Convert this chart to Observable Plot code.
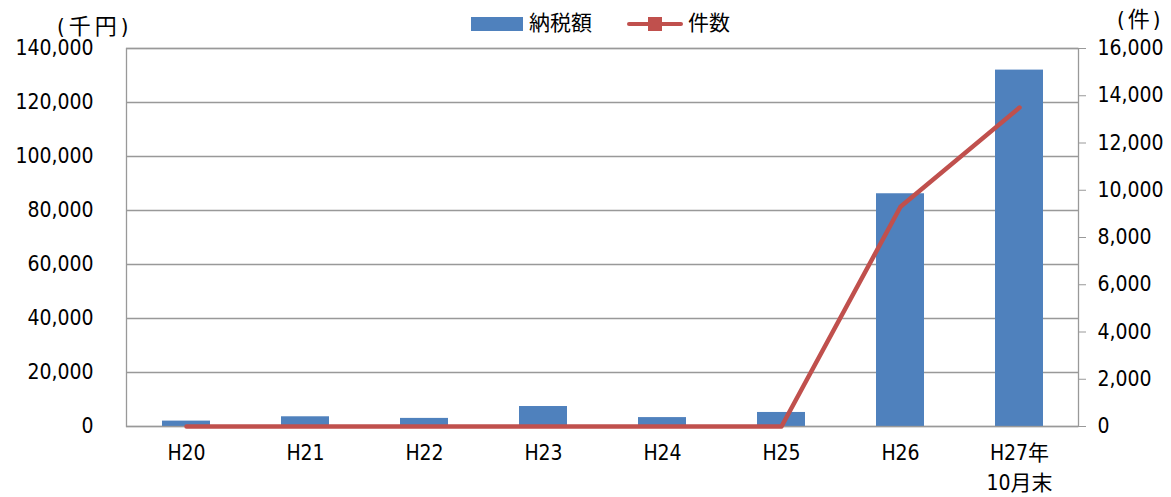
<!DOCTYPE html>
<html>
<head>
<meta charset="utf-8">
<script src="https://cdn.jsdelivr.net/npm/d3@7"></script>
<script src="https://cdn.jsdelivr.net/npm/@observablehq/plot@0.6"></script>
<style>
  html, body { margin: 0; padding: 0; background: #fff; }
  #wrap { position: relative; width: 1171px; height: 497px; font-family: "DejaVu Sans Condensed", "Noto Sans CJK JP", sans-serif; color: #000; }
  .abs { position: absolute; white-space: nowrap; line-height: 1; z-index: 2; }
</style>
</head>
<body>
<div id="wrap">
  <div id="chart" style="position:absolute; left:0; top:0; z-index:1;"></div>
  <div class="abs" style="left:57px; top:16px; font-size:22px; letter-spacing:4px;">(千円)</div>
  <div class="abs" style="left:1117px; top:9px; font-size:22px; letter-spacing:3px;">(件)</div>
  <div class="abs" style="left:471px; top:17px; width:52px; height:14px; background:#4F81BD;"></div>
  <div class="abs" style="left:529px; top:13px; font-size:21px;">納税額</div>
  <div class="abs" style="left:627px; top:22px; width:56px; height:4px; background:#C0504D; border-radius:2px;"></div>
  <div class="abs" style="left:648px; top:17px; width:14px; height:14px; background:#C0504D;"></div>
  <div class="abs" style="left:688px; top:13px; font-size:21px;">件数</div>
</div>
<script>
const categories = ["H20", "H21", "H22", "H23", "H24", "H25", "H26", "H27年\n10月末"];
const taxAmount = [2000, 3600, 3000, 7400, 3300, 5200, 86200, 132000]; // 納税額 (千円)
const counts = [0, 0, 0, 0, 0, 0, 9300, 13500]; // 件数
const leftTicks = [0, 20000, 40000, 60000, 80000, 100000, 120000, 140000];
const rightTicks = [0, 2000, 4000, 6000, 8000, 10000, 12000, 14000, 16000];

const leftMax = 140000, rightMax = 16000;
const ratio = leftMax / rightMax;
const table = categories.map((c, i) => ({cat: c, tax: taxAmount[i], count: counts[i]}));
const fmt = d3.format(",");

const chart = Plot.plot({
  width: 1171,
  height: 497,
  marginTop: 48,
  marginBottom: 71,
  marginLeft: 126,
  marginRight: 93,
  style: {fontFamily: '"DejaVu Sans Condensed", "Noto Sans CJK JP", sans-serif', fontSize: "21px", color: "#000", background: "transparent"},
  x: {domain: categories, paddingInner: 0.6, paddingOuter: 0.3, label: null},
  y: {domain: [0, leftMax], label: null},
  marks: [
    Plot.gridY(leftTicks, {stroke: "#999", strokeOpacity: 1, strokeWidth: 1.3}),
    Plot.barY(table, {x: "cat", y: "tax", fill: "#4F81BD"}),
    Plot.frame({stroke: "#999", strokeWidth: 1.3}),
    Plot.line(table, {x: "cat", y: d => d.count * ratio, stroke: "#C0504D", strokeWidth: 4.5, strokeLinecap: "round", strokeLinejoin: "round"}),
    Plot.axisY(leftTicks, {anchor: "left", tickSize: 0, tickPadding: 33, tickFormat: fmt, label: null, fill: "#000"}),
    Plot.axisY(rightTicks.map(v => v * ratio), {anchor: "right", tickSize: 7, tickPadding: 12, stroke: "#999", fill: "#000", tickFormat: v => fmt(Math.round(v / ratio)), label: null}),
    Plot.axisX({anchor: "bottom", tickSize: 0, tickPadding: 13, label: null, fill: "#000", lineHeight: 1.4})
  ]
});
document.getElementById("chart").appendChild(chart);
</script>
</body>
</html>
